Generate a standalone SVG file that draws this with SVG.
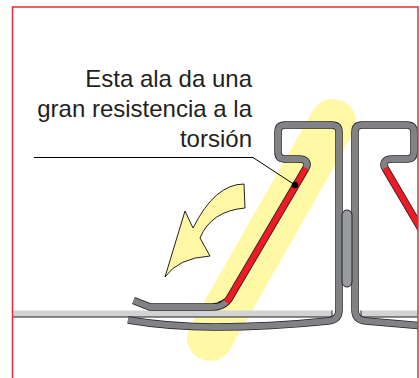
<svg xmlns="http://www.w3.org/2000/svg" width="420" height="378" viewBox="0 0 420 378">
<style>
.o{fill:none;stroke:#231f20;stroke-width:7.500;stroke-linejoin:round}
.g{fill:none;stroke:#808285;stroke-width:6;stroke-linejoin:round}
.or{fill:none;stroke:#231f20;stroke-width:7.500}
.r{fill:none;stroke:#ed1c24;stroke-width:6}
text{font-family:"Liberation Sans",Arial,sans-serif;font-size:24px;fill:#231f20;text-anchor:end}
</style>
<defs><clipPath id="c"><rect x="13" y="7" width="405" height="371"/></clipPath></defs>
<rect width="420" height="378" fill="#fff"/>
<g id="band"><path d="M333 122L210 338" fill="none" stroke="#fff9a6" stroke-width="46" stroke-linecap="round"/></g>
<g id="arrow"><path d="M244 184L245 208Q211 211 200 238L210 256Q178 258 165 277L185 211L193 228Q215 184 244 184Z" fill="#fff7a3" stroke="#231f20" stroke-width="1"/></g>
<g clip-path="url(#c)">
<g id="sheets">
<path d="M12 310.500H332V317H12Z" fill="#d1d3d4"/><path d="M12 317H332V310.500" fill="none" stroke="#231f20"/>
<path d="M361 310.500H420V317H361Z" fill="#d1d3d4"/><path d="M361 310.500V317H420" fill="none" stroke="#231f20"/>
</g>
<g id="left-profile">
<path class="or" d="M306 168L229 299Q226 304 219 305"/>
<path class="o" d="M133.500 300.500L150 307H212Q222 307 227 301"/>
<path class="o" d="M306 168C309 162 305 159 299 159H285Q278 159 278 152V132Q278 125 285 125H332Q339 125 339 132V310Q339 320 328 321Q270 327 215 327Q170 327 128 320"/>
<path class="r" d="M306 168L229 299Q227 302 225 303"/>
<path class="g" d="M133.500 300.500L150 307H212Q222 307 226 302"/>
<path class="g" d="M306 168C309 162 305 159 299 159H285Q278 159 278 152V132Q278 125 285 125H332Q339 125 339 132V310Q339 320 328 321Q270 327 215 327Q170 327 128 320"/>
</g>
<g id="right-profile">
<path class="or" d="M385 168L425 236"/>
<path class="o" d="M385 168C382 162 386 159 392 159H407Q414 159 414 152V132Q414 125 407 125H362Q355 125 355 132V310Q355 320 366 321L425 326"/>
<path class="r" d="M385 168L425 236"/>
<path class="g" d="M385 168C382 162 386 159 392 159H407Q414 159 414 152V132Q414 125 407 125H362Q355 125 355 132V310Q355 320 366 321L425 326"/>
</g>
</g>
<g id="center-strip"><rect x="342" y="210" width="10" height="77" rx="5" fill="#999b9e" stroke="#231f20" stroke-width="1"/></g>
<g id="leader"><path d="M34 157.500H253L295 185" fill="none" stroke="#000" stroke-width="1"/><circle cx="295" cy="185" r="3.200" fill="#000"/></g>
<g id="label">
<text x="252" y="87">Esta ala da una</text>
<text x="252" y="117">gran resistencia a la</text>
<text x="252" y="147">torsión</text>
</g>
<g id="frame"><path d="M12.500 378V7H418V378" fill="none" stroke="#ee2a35" stroke-width="1.500"/></g>
</svg>
